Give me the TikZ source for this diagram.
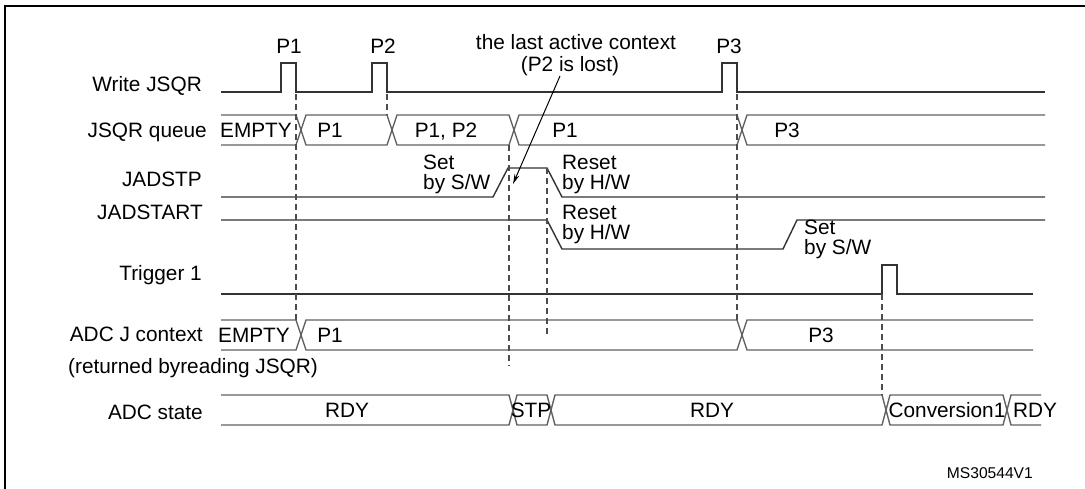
\documentclass[tikz,border=0pt]{standalone}
\usepackage{fontspec}
\setmainfont{Liberation Sans}
\usetikzlibrary{arrows.meta}
\begin{document}
\begin{tikzpicture}[x=1pt,y=-1pt,
  sig/.style={line width=1.4pt,draw=black!80,line join=miter},
  busline/.style={line width=1.4pt,draw=black!62},
  guide/.style={line width=1.1pt,draw=black!70,dash pattern=on 6pt off 4pt},
  frame/.style={line width=2.4pt,draw=black},
  lbl/.style={anchor=base east,inner sep=0pt,font=\fontsize{20.8}{20}\selectfont},
  txt/.style={anchor=base,inner sep=0pt,font=\fontsize{20.8}{20}\selectfont},
  note/.style={anchor=base west,inner sep=0pt,font=\fontsize{20.8}{20}\selectfont},
  code/.style={anchor=base east,inner sep=0pt,font=\fontsize{15.6}{16}\selectfont},
  pointer/.style={line width=1pt,draw=black,-{Stealth[length=10pt,width=5pt]}},
]
\useasboundingbox (0,0) rectangle (1085,489);
\fill[white] (0,0) rectangle (1085,489);

% frame
\draw[frame] (5,489) -- (5,6) -- (1085,6);

% row labels
\node[lbl] (lw) at (202,92) {Write JSQR};
\node[lbl] (lq) at (207,137.5) {JSQR queue};
\node[lbl] (lstp) at (202,187) {JADSTP};
\node[lbl] (lstart) at (203,220) {JADSTART};
\node[lbl] (ltrig) at (202,280) {Trigger 1};
\node[lbl] (ladc) at (203,341.5) {ADC J context};
\node[note] (lret) at (68,373) {(returned byreading JSQR)};
\node[lbl] (lstate) at (203,419) {ADC state};

% top labels
\node[txt] (p1) at (289,54) {P1};
\node[txt] (p2) at (383,54) {P2};
\node[txt] (p3) at (729,54) {P3};
\node[txt] (ctx1) at (576,50) {the last active context};
\node[txt] (ctx2) at (570,72) {(P2 is lost)};

% Write JSQR
\draw[sig] (221,92) -- (281,92) -- (281,63) -- (296,63) -- (296,92)
  -- (372,92) -- (372,63) -- (387,63) -- (387,92)
  -- (722,92) -- (722,63) -- (737,63) -- (737,92) -- (1045,92);

% JSQR queue bus
\draw[busline] (221,115) -- (296,115) -- (306,145) -- (387,145) -- (397,115)
  -- (509,115) -- (519,145) -- (737,145) -- (747,115) -- (1045,115);
\draw[busline] (221,145) -- (296,145) -- (306,115) -- (387,115) -- (397,145)
  -- (509,145) -- (519,115) -- (737,115) -- (747,145) -- (1045,145);
\node[txt] (q0) at (256,137.5) {EMPTY};
\node[txt] (q1) at (330,137.5) {P1};
\node[txt] (q2) at (446,137.5) {P1, P2};
\node[txt] (q3) at (565,137.5) {P1};
\node[txt] (q4) at (787,137.5) {P3};

% JADSTP
\draw[sig] (221,197) -- (493,197) -- (508,168) -- (547,168) -- (562,197) -- (1045,197);
\node[note] (s1a) at (423,170) {Set};
\node[note] (s1b) at (423,190) {by S/W};
\node[note] (r1a) at (562,170) {Reset};
\node[note] (r1b) at (562,190) {by H/W};

% JADSTART
\draw[sig] (221,220) -- (547,220) -- (562,249) -- (783,249) -- (797,220) -- (1045,220);
\node[note] (r2a) at (562,220) {Reset};
\node[note] (r2b) at (562,240) {by H/W};
\node[note] (s2a) at (804,235) {Set};
\node[note] (s2b) at (804,255) {by S/W};

% Trigger 1
\draw[sig] (221,294) -- (882,294) -- (882,265) -- (897,265) -- (897,294) -- (1033,294);

% ADC J context bus
\draw[busline] (221,320) -- (296,320) -- (306,350) -- (737,350) -- (747,320) -- (1033,320);
\draw[busline] (221,350) -- (296,350) -- (306,320) -- (737,320) -- (747,350) -- (1033,350);
\node[txt] (j0) at (254,342) {EMPTY};
\node[txt] (j1) at (330,342) {P1};
\node[txt] (j2) at (821,342) {P3};

% ADC state bus
\draw[busline] (221,395) -- (509,395) -- (517,425) -- (547,425) -- (555,395)
  -- (882,395) -- (890,425) -- (1003,425) -- (1011,395) -- (1041,395);
\draw[busline] (221,425) -- (509,425) -- (517,395) -- (547,395) -- (555,425)
  -- (882,425) -- (890,395) -- (1003,395) -- (1011,425) -- (1041,425);
\node[txt] (a0) at (347,417.5) {RDY};
\node[txt] (a1) at (531,417.5) {STP};
\node[txt] (a2) at (712,417.5) {RDY};
\node[txt] (a3) at (947,417.5) {Conversion1};
\node[txt] (a4) at (1035,417.5) {RDY};

% dashed guides
\draw[guide] (296,94) -- (296,320);
\draw[guide] (387,94) -- (387,115);
\draw[guide] (509,145) -- (509,366);
\draw[guide] (547,168) -- (547,335);
\draw[guide] (737,94) -- (737,320);
\draw[guide] (882,294) -- (882,395);

% pointer
\coordinate (tip) at (513,184);
\coordinate (tail) at (560,76);
\draw[pointer] (tail) -- (tip);

% code
\node[code] (ms) at (1033,478.5) {MS30544V1};
\end{tikzpicture}
\end{document}
